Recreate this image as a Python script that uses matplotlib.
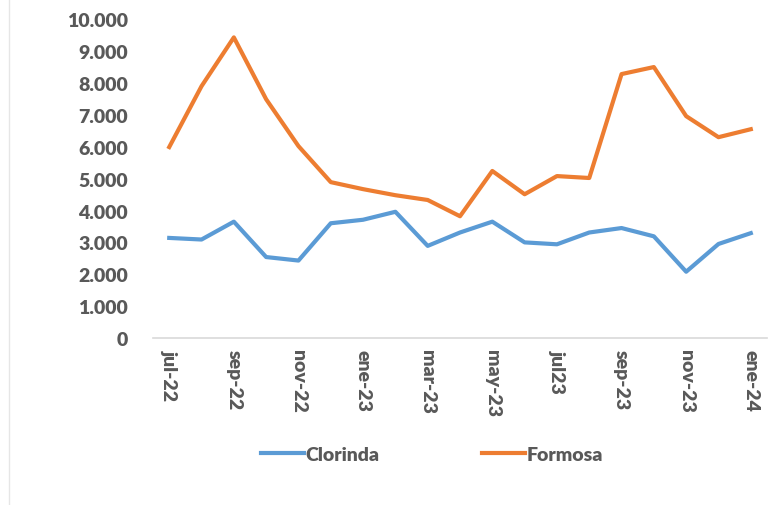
import matplotlib
matplotlib.use("Agg")
import matplotlib.pyplot as plt
from matplotlib.ticker import FuncFormatter, MultipleLocator
from matplotlib.lines import Line2D

months = ["jul-22", "ago-22", "sep-22", "oct-22", "nov-22", "dic-22", "ene-23", "feb-23",
          "mar-23", "abr-23", "may-23", "jun-23", "jul23", "ago-23", "sep-23", "oct-23",
          "nov-23", "dic-23", "ene-24"]
clorinda = [3140, 3090, 3650, 2540, 2430, 3600, 3710, 3960, 2890, 3310, 3650, 3000,
            2940, 3310, 3450, 3190, 2080, 2950, 3290]
formosa = [5990, 7900, 9430, 7490, 6020, 4890, 4670, 4480, 4330, 3820, 5240, 4510,
           5080, 5020, 8280, 8500, 6960, 6300, 6550]

BLUE = "#5B9BD5"
ORANGE = "#ED7D31"
TXT = "#595959"
FONT = "Lato"
WEIGHT = "heavy"

fig = plt.figure(figsize=(7.81, 5.06), dpi=100)
ax = fig.add_axes([0.196, 0.330, 0.786, 0.630])

x = list(range(len(months)))
ax.plot(x, clorinda, color=BLUE, lw=3, solid_joinstyle="round")
ax.plot(x, formosa, color=ORANGE, lw=3, solid_joinstyle="round")

ax.set_xlim(-0.5, len(months) - 0.5)
ax.set_ylim(0, 10000)
ax.yaxis.set_major_locator(MultipleLocator(1000))
ax.yaxis.set_major_formatter(FuncFormatter(lambda v, p: f"{int(v):,}".replace(",", ".")))
ax.set_xticks(x[::2])
ax.set_xticklabels(months[::2], rotation=-90, va="top", ha="center")

for s in ["top", "right", "left"]:
    ax.spines[s].set_visible(False)
ax.spines["bottom"].set_color("#D9D9D9")
ax.spines["bottom"].set_linewidth(1.2)
ax.tick_params(axis="both", length=0, colors=TXT)
ax.tick_params(axis="y", pad=18)
ax.tick_params(axis="x", pad=8)
for lab in ax.get_yticklabels() + ax.get_xticklabels():
    lab.set_fontfamily(FONT)
    lab.set_fontweight(WEIGHT)
    lab.set_fontsize(14)
    lab.set_color(TXT)

handles = [Line2D([0], [0], color=BLUE, lw=3), Line2D([0], [0], color=ORANGE, lw=3)]
fig.legend(handles, ["Clorinda", "Formosa"], loc="center", bbox_to_anchor=(0.553, 0.10),
           ncol=2, frameon=False, handlelength=2.2, handletextpad=0.08, columnspacing=5.3,
           prop={"family": FONT, "weight": WEIGHT, "size": 14}, labelcolor=TXT)

fig.add_artist(Line2D([0.011, 0.011], [0.0, 1.0], transform=fig.transFigure,
                      color="#E6E6E6", lw=1))

fig.savefig("out.png", dpi=100)
